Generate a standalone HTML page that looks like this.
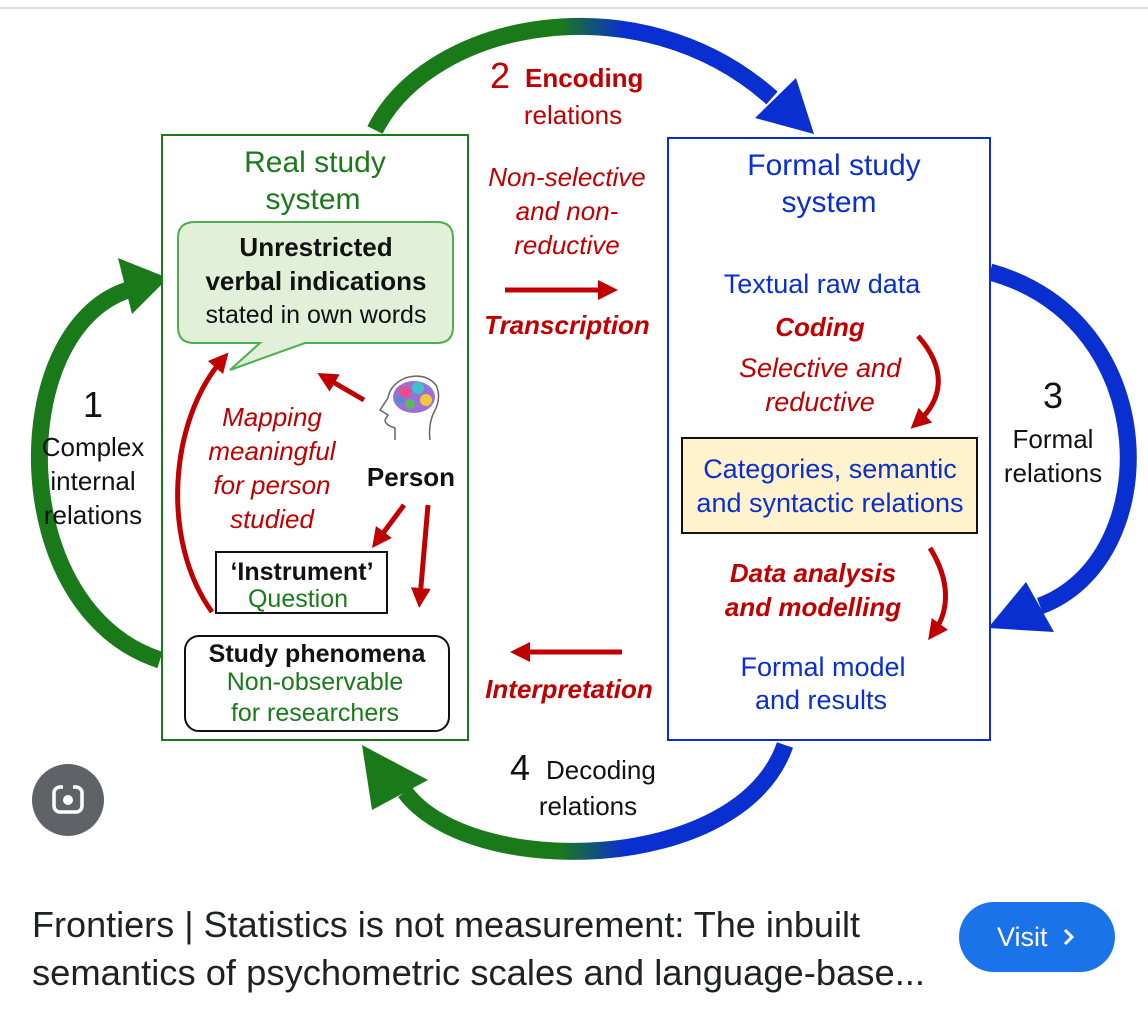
<!DOCTYPE html>
<html><head><meta charset="utf-8"><style>
html,body{margin:0;padding:0;background:#fff;width:1148px;height:1018px;overflow:hidden}
svg{display:block}
text{font-family:"Liberation Sans",Arial,sans-serif}
</style></head><body>
<svg width="1148" height="1018" viewBox="0 0 1148 1018" xmlns="http://www.w3.org/2000/svg">
<defs>
<linearGradient id="gt" gradientUnits="userSpaceOnUse" x1="560" y1="0" x2="625" y2="0"><stop offset="0" stop-color="#1a7a1a"/><stop offset="1" stop-color="#0a2fd0"/></linearGradient>
<linearGradient id="gb" gradientUnits="userSpaceOnUse" x1="560" y1="0" x2="625" y2="0"><stop offset="0" stop-color="#1a7a1a"/><stop offset="1" stop-color="#0a2fd0"/></linearGradient>
<marker id="ar" markerWidth="4" markerHeight="4" refX="2" refY="2" orient="auto" markerUnits="strokeWidth"><path d="M0,0 L4,2 L0,4 z" fill="#c00000"/></marker>
</defs>
<line x1="0" y1="8" x2="1148" y2="8" stroke="#dadce0" stroke-width="2"/>

<path d="M375,130 C430,20 640,-20 772,98" fill="none" stroke="url(#gt)" stroke-width="17"/>
<polygon points="814,134 755,118 796,78" fill="#0a2fd0"/>
<path d="M160,660 C5,610 5,330 128,290" fill="none" stroke="#1a7a1a" stroke-width="17"/>
<polygon points="168,278 118,258 132,314" fill="#1a7a1a"/>
<path d="M990,272 C1165,320 1165,560 1040,606" fill="none" stroke="#0a2fd0" stroke-width="17"/>
<polygon points="988,628 1026,582 1054,632" fill="#0a2fd0"/>
<path d="M785,745 C740,875 470,880 405,792" fill="none" stroke="url(#gb)" stroke-width="17"/>
<polygon points="362,745 372,810 428,780" fill="#1a7a1a"/>

<rect x="162" y="135" width="306" height="605" fill="#fff" stroke="#1a7a1a" stroke-width="2"/>
<rect x="668" y="138" width="322" height="602" fill="#fff" stroke="#0a2fd0" stroke-width="2"/>

<text x="315" y="172" font-size="30" fill="#1a7a1a" text-anchor="middle">Real study</text>
<text x="313" y="209" font-size="30" fill="#1a7a1a" text-anchor="middle">system</text>
<text x="834" y="175" font-size="30" fill="#0a2fd0" text-anchor="middle">Formal study</text>
<text x="829" y="212" font-size="30" fill="#0a2fd0" text-anchor="middle">system</text>

<path d="M195,222 H437 Q453,222 453,238 V327 Q453,343 437,343 H305 L230,370 L260,343 H194 Q178,343 178,327 V238 Q178,222 195,222 Z" fill="#e2f0d9" stroke="#4caf50" stroke-width="2"/>
<text x="316" y="256" font-size="26" font-weight="bold" fill="#111" text-anchor="middle">Unrestricted</text>
<text x="316" y="290" font-size="26" font-weight="bold" fill="#111" text-anchor="middle">verbal indications</text>
<text x="316" y="323" font-size="25" fill="#111" text-anchor="middle">stated in own words</text>

<path d="M395,440 L395,428 Q385,425 385,420 L388,415 L380,410 L388,398 Q390,385 405,378 Q425,372 436,385 Q442,398 434,412 Q428,425 430,440" fill="none" stroke="#666" stroke-width="1.5"/>
<ellipse cx="414" cy="397" rx="21" ry="16" fill="#9b6fd6"/>
<circle cx="405" cy="392" r="6" fill="#e84d8a"/><circle cx="418" cy="388" r="6" fill="#3fc1c9"/><circle cx="426" cy="400" r="6" fill="#f5c542"/><circle cx="410" cy="404" r="5" fill="#5cb85c"/><circle cx="400" cy="400" r="4" fill="#4a90d9"/>
<text x="411" y="486" font-size="26" font-weight="bold" fill="#111" text-anchor="middle">Person</text>

<g font-size="26" font-style="italic" fill="#c00000" text-anchor="middle">
<text x="272" y="426">Mapping</text>
<text x="272" y="460">meaningful</text>
<text x="272" y="494">for person</text>
<text x="272" y="528">studied</text>
</g>

<g stroke="#c00000" stroke-width="5" fill="none" marker-end="url(#ar)">
<path d="M212,612 C160,540 170,420 222,360"/>
<line x1="364" y1="400" x2="326" y2="378"/>
<line x1="404" y1="505" x2="378" y2="540"/>
<line x1="428" y1="505" x2="420" y2="598"/>
<line x1="505" y1="290" x2="608" y2="290"/>
<line x1="622" y1="652" x2="520" y2="652"/>
<path d="M918,336 C948,370 942,400 918,422"/>
<path d="M930,548 C950,580 950,610 934,632"/>
</g>

<rect x="216" y="552" width="171" height="61" fill="#fff" stroke="#111" stroke-width="2"/>
<text x="302" y="580" font-size="25" font-weight="bold" fill="#111" text-anchor="middle">‘Instrument’</text>
<text x="298" y="607" font-size="25" fill="#1a7a1a" text-anchor="middle">Question</text>

<rect x="185" y="636" width="264" height="95" rx="14" fill="#fff" stroke="#111" stroke-width="2"/>
<text x="317" y="662" font-size="25" font-weight="bold" fill="#111" text-anchor="middle">Study phenomena</text>
<text x="315" y="690" font-size="25" fill="#1a7a1a" text-anchor="middle">Non-observable</text>
<text x="315" y="721" font-size="25" fill="#1a7a1a" text-anchor="middle">for researchers</text>

<text x="490" y="88" font-size="36" fill="#c00000">2</text>
<text x="525" y="87" font-size="26" font-weight="bold" fill="#c00000">Encoding</text>
<text x="573" y="124" font-size="26" fill="#c00000" text-anchor="middle">relations</text>
<g font-size="26" font-style="italic" fill="#c00000" text-anchor="middle">
<text x="567" y="186">Non-selective</text>
<text x="567" y="220">and non-</text>
<text x="567" y="254">reductive</text>
</g>
<text x="567" y="334" font-size="26" font-weight="bold" font-style="italic" fill="#c00000" text-anchor="middle">Transcription</text>
<text x="569" y="698" font-size="26" font-weight="bold" font-style="italic" fill="#c00000" text-anchor="middle">Interpretation</text>

<text x="822" y="293" font-size="27" fill="#0a2fd0" text-anchor="middle">Textual raw data</text>
<text x="820" y="336" font-size="26" font-weight="bold" font-style="italic" fill="#c00000" text-anchor="middle">Coding</text>
<text x="820" y="377" font-size="27" font-style="italic" fill="#c00000" text-anchor="middle">Selective and</text>
<text x="820" y="411" font-size="27" font-style="italic" fill="#c00000" text-anchor="middle">reductive</text>
<rect x="682" y="438" width="295" height="95" fill="#fff2cc" stroke="#111" stroke-width="2"/>
<text x="830" y="478" font-size="27" fill="#0a2fd0" text-anchor="middle">Categories, semantic</text>
<text x="830" y="512" font-size="27" fill="#0a2fd0" text-anchor="middle">and syntactic relations</text>
<text x="813" y="582" font-size="26" font-weight="bold" font-style="italic" fill="#c00000" text-anchor="middle">Data analysis</text>
<text x="813" y="616" font-size="26" font-weight="bold" font-style="italic" fill="#c00000" text-anchor="middle">and modelling</text>
<text x="823" y="676" font-size="27" fill="#0a2fd0" text-anchor="middle">Formal model</text>
<text x="821" y="709" font-size="27" fill="#0a2fd0" text-anchor="middle">and results</text>

<text x="93" y="417" font-size="36" fill="#111" text-anchor="middle">1</text>
<g font-size="26" fill="#111" text-anchor="middle">
<text x="93" y="456">Complex</text><text x="93" y="490">internal</text><text x="93" y="524">relations</text>
</g>
<text x="1053" y="408" font-size="36" fill="#111" text-anchor="middle">3</text>
<text x="1053" y="448" font-size="26" fill="#111" text-anchor="middle">Formal</text>
<text x="1053" y="482" font-size="26" fill="#111" text-anchor="middle">relations</text>
<text x="510" y="780" font-size="36" fill="#111">4</text>
<text x="546" y="779" font-size="26" fill="#111">Decoding</text>
<text x="588" y="815" font-size="26" fill="#111" text-anchor="middle">relations</text>

<circle cx="68" cy="800" r="36" fill="#5f6368"/>
<rect x="54" y="787" width="28" height="25" rx="6" fill="none" stroke="#fff" stroke-width="3.5"/>
<circle cx="68" cy="800" r="5" fill="#fff"/>
<rect x="63" y="783" width="10" height="6" fill="#5f6368"/>

<text x="32" y="937" font-size="36" fill="#202124" textLength="828" lengthAdjust="spacingAndGlyphs">Frontiers | Statistics is not measurement: The inbuilt</text>
<text x="32" y="985" font-size="36" fill="#202124" textLength="893" lengthAdjust="spacingAndGlyphs">semantics of psychometric scales and language-base...</text>
<rect x="959" y="902" width="156" height="70" rx="35" fill="#1a73e8"/>
<text x="997" y="946" font-size="27" fill="#fff">Visit</text>
<path d="M1065,930 L1072,937 L1065,944" fill="none" stroke="#fff" stroke-width="3"/>
</svg>
</body></html>
